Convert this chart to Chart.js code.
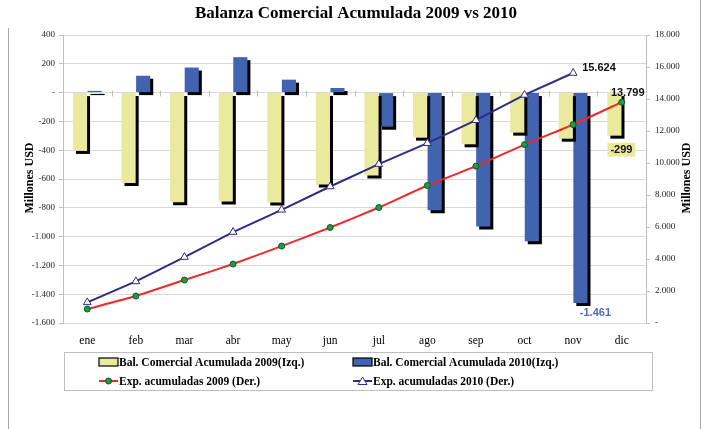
<!DOCTYPE html>
<html>
<head>
<meta charset="utf-8">
<script src="https://cdn.jsdelivr.net/npm/chart.js@4.4.1/dist/chart.umd.min.js"></script>
<style>
  html, body { margin: 0; padding: 0; background: #fff; }
  #wrap { width: 712px; height: 429px; position: relative; }
</style>
</head>
<body>
<div id="wrap"><canvas id="c" width="712" height="429"></canvas></div>
<script>
let months = ['ene', 'feb', 'mar', 'abr', 'may', 'jun', 'jul', 'ago', 'sep', 'oct', 'nov', 'dic']

// Millones USD, eje izquierdo
let balanza2009 = [-405, -628, -761, -757, -763, -639, -575, -313, -359, -278, -320, -299]
let balanza2010 = [12, 117, 174, 246, 90, 32, -237, -817, -929, -1033, -1461, null]

// Millones USD, eje derecho
let exp2009 = [874, 1686, 2685, 3684, 4807, 5969, 7218, 8591, 9802, 11151, 12400, 13799]
let exp2010 = [1287, 2598, 4120, 5681, 7074, 8531, 9927, 11238, 12674, 14254, 15624, null]

let yellow = '#EAEA9E'
let blue = '#4264B0'
let red = '#F02828'
let navy = '#2E2C86'
let serif = '"Liberation Serif", "Times New Roman", serif'
let sans = '"Liberation Sans", Arial, sans-serif'

function fmt(v) {
  if (v === 0) return '-'
  let s = String(Math.abs(v)).replace(/\B(?=(\d{3})+(?!\d))/g, '.')
  return (v < 0 ? '-' : '') + s
}

let barShadow = {
  id: 'barShadow',
  beforeDatasetDraw(chart, args) {
    if (chart.data.datasets[args.index].type !== 'bar') return
    let ctx = chart.ctx
    ctx.save()
    ctx.shadowColor = '#000'
    ctx.shadowOffsetX = 3
    ctx.shadowOffsetY = 3
    ctx.shadowBlur = 0
  },
  afterDatasetDraw(chart, args) {
    if (chart.data.datasets[args.index].type !== 'bar') return
    chart.ctx.restore()
  },
}

let extras = {
  id: 'extras',
  beforeDraw(chart) {
    let ctx = chart.ctx
    ctx.save()
    ctx.fillStyle = '#fff'
    ctx.fillRect(0, 0, chart.width, chart.height)
    ctx.strokeStyle = '#A8A8A8'
    ctx.lineWidth = 1
    ctx.beginPath()
    ctx.moveTo(8.5, 28); ctx.lineTo(8.5, 429)
    ctx.moveTo(700.5, 0); ctx.lineTo(700.5, 429)
    ctx.stroke()
    ctx.restore()
  },
  afterDatasetsDraw(chart) {
    let ctx = chart.ctx
    let ca = chart.chartArea
    ctx.save()
    // small category ticks on the zero line
    let y0 = Math.round(chart.scales.y.getPixelForValue(0)) + 0.5
    let step = (ca.right - ca.left) / months.length
    ctx.strokeStyle = '#BFBFBF'
    ctx.beginPath()
    for (let i = 1; i < months.length; i++) {
      let x = Math.round(ca.left + i * step) + 0.5
      ctx.moveTo(x, y0 - 3); ctx.lineTo(x, y0 + 3)
    }
    ctx.stroke()

    // data labels
    let p2010 = chart.getDatasetMeta(3).data[10]
    let p2009 = chart.getDatasetMeta(2).data[11]
    let b2009 = chart.getDatasetMeta(0).data[11]
    let b2010 = chart.getDatasetMeta(1).data[10]
    ctx.font = 'bold 11px ' + sans
    ctx.textBaseline = 'middle'
    ctx.fillStyle = '#111'
    ctx.textAlign = 'left'
    ctx.fillText(fmt(exp2010[10]), p2010.x + 9, p2010.y - 5)
    ctx.textAlign = 'center'
    ctx.fillText(fmt(exp2009[11]), p2009.x + 6, p2009.y - 9)

    let t = fmt(balanza2009[11])
    let w = ctx.measureText(t).width + 6
    let lx = b2009.x + 7
    let ly = b2009.y + 14
    ctx.fillStyle = yellow
    ctx.fillRect(lx - w / 2, ly - 7, w, 14)
    ctx.fillStyle = '#111'
    ctx.fillText(t, lx, ly)

    ctx.fillStyle = '#4A6CBC'
    ctx.fillText(fmt(balanza2010[10]), b2010.x + 15, b2010.y + 10)
    ctx.restore()
  },
  afterDraw(chart) {
    let ctx = chart.ctx
    ctx.save()
    // title
    ctx.fillStyle = '#000'
    ctx.textAlign = 'center'
    ctx.textBaseline = 'middle'
    ctx.font = 'bold 17px ' + serif
    ctx.fillText('Balanza Comercial Acumulada 2009 vs 2010', 356, 14)

    // axis titles
    ctx.font = 'bold 12px ' + serif
    for (let x of [30, 687]) {
      ctx.save()
      ctx.translate(x, 178)
      ctx.rotate(-Math.PI / 2)
      ctx.fillText('Millones USD', 0, 0)
      ctx.restore()
    }

    // legend
    ctx.strokeStyle = '#BFBFBF'
    ctx.lineWidth = 1
    ctx.strokeRect(64.5, 352.5, 588, 38)
    ctx.font = 'bold 11.5px ' + serif
    ctx.textAlign = 'left'
    let items = [
      [99, 362, 'bar', yellow, 'Bal. Comercial Acumulada 2009(Izq.)'],
      [353, 362, 'bar', blue, 'Bal. Comercial Acumulada 2010(Izq.)'],
      [99, 381, 'circle', red, 'Exp. acumuladas 2009 (Der.)'],
      [353, 381, 'triangle', navy, 'Exp. acumuladas 2010 (Der.)'],
    ]
    for (let [x, y, kind, col, label] of items) {
      if (kind === 'bar') {
        ctx.fillStyle = col
        ctx.fillRect(x, y - 4, 19, 8)
        ctx.strokeStyle = '#000'
        ctx.lineWidth = 1.2
        ctx.strokeRect(x, y - 4, 19, 8)
      } else {
        ctx.strokeStyle = col
        ctx.lineWidth = 2
        ctx.beginPath(); ctx.moveTo(x, y); ctx.lineTo(x + 19, y); ctx.stroke()
        ctx.lineWidth = 1
        if (kind === 'circle') {
          ctx.fillStyle = '#1E9A48'
          ctx.strokeStyle = '#0E5A28'
          ctx.beginPath(); ctx.arc(x + 9.5, y, 3, 0, Math.PI * 2); ctx.fill(); ctx.stroke()
        } else {
          ctx.fillStyle = '#fff'
          ctx.strokeStyle = col
          ctx.beginPath()
          ctx.moveTo(x + 9.5, y - 4); ctx.lineTo(x + 14, y + 3.5); ctx.lineTo(x + 5, y + 3.5)
          ctx.closePath(); ctx.fill(); ctx.stroke()
        }
      }
      ctx.fillStyle = '#000'
      ctx.fillText(label, x + 20, y + 1)
    }
    ctx.restore()
  },
}

let ctx = document.getElementById('c').getContext('2d')
new Chart(ctx, {
  data: {
    labels: months,
    datasets: [
      {
        type: 'bar',
        label: 'Bal. Comercial Acumulada 2009(Izq.)',
        data: balanza2009,
        backgroundColor: yellow,
        yAxisID: 'y',
        order: 2,
      },
      {
        type: 'bar',
        label: 'Bal. Comercial Acumulada 2010(Izq.)',
        data: balanza2010,
        backgroundColor: blue,
        yAxisID: 'y',
        order: 2,
      },
      {
        type: 'line',
        label: 'Exp. acumuladas 2009 (Der.)',
        data: exp2009,
        borderColor: red,
        borderWidth: 2,
        pointStyle: 'circle',
        pointRadius: 3,
        pointBackgroundColor: '#1E9A48',
        pointBorderColor: '#0E5A28',
        pointBorderWidth: 1,
        tension: 0.15,
        yAxisID: 'y1',
        order: 0,
      },
      {
        type: 'line',
        label: 'Exp. acumuladas 2010 (Der.)',
        data: exp2010,
        borderColor: navy,
        borderWidth: 2,
        pointStyle: 'triangle',
        pointRadius: 4.5,
        pointBackgroundColor: '#fff',
        pointBorderColor: navy,
        pointBorderWidth: 1,
        tension: 0,
        yAxisID: 'y1',
        order: 0,
      },
    ],
  },
  options: {
    responsive: false,
    animation: false,
    events: [],
    datasets: {
      bar: {categoryPercentage: 0.6, barPercentage: 0.97},
    },
    layout: {
      padding: {left: 0, right: 0, top: 35, bottom: 76},
    },
    plugins: {
      legend: {display: false},
      title: {display: false},
      tooltip: {enabled: false},
    },
    scales: {
      x: {
        type: 'category',
        offset: true,
        grid: {display: false},
        border: {display: false},
        ticks: {
          color: '#000',
          font: {family: serif, size: 11.5},
          padding: 3,
          maxRotation: 0,
        },
        afterFit(scale) { scale.height = 30 },
      },
      y: {
        position: 'left',
        min: -1600,
        max: 400,
        ticks: {
          stepSize: 200,
          color: '#222',
          font: {family: serif, size: 9},
          padding: 4,
          callback: v => fmt(v),
        },
        grid: {color: '#D9D9D9', tickLength: 4, tickColor: '#BFBFBF'},
        border: {color: '#BFBFBF'},
        afterFit(scale) { scale.width = 63 },
      },
      y1: {
        position: 'right',
        min: 0,
        max: 18000,
        ticks: {
          stepSize: 2000,
          color: '#222',
          font: {family: serif, size: 9},
          padding: 5,
          callback: v => fmt(v),
        },
        grid: {drawOnChartArea: false, tickLength: 4, color: '#BFBFBF'},
        border: {color: '#BFBFBF'},
        afterFit(scale) { scale.width = 66 },
      },
    },
  },
  plugins: [barShadow, extras],
})
</script>
</body>
</html>
